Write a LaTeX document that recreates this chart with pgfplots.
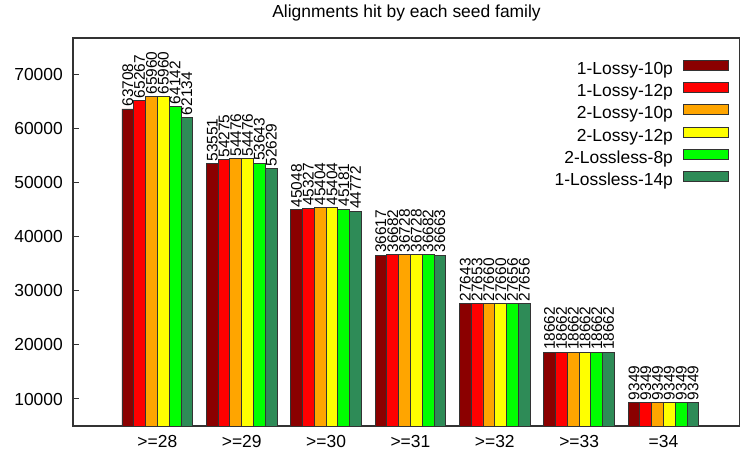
\documentclass[border=0pt]{standalone}
\usepackage{fontspec}
\setmainfont{Liberation Sans}
\usepackage{pgfplots}
\pgfplotsset{compat=1.18}
\definecolor{c1}{HTML}{8B0000}
\definecolor{c2}{HTML}{FF0000}
\definecolor{c3}{HTML}{FFA500}
\definecolor{c4}{HTML}{FFFF00}
\definecolor{c5}{HTML}{00FF00}
\definecolor{c6}{HTML}{2E8B57}
\definecolor{axc}{HTML}{333333}
\begin{document}
\begin{tikzpicture}
\begin{axis}[
  scale only axis,
  width=667bp, height=388bp,
  xmin=-1, xmax=6.907,
  ymin=5000, ymax=76850,
  ybar=0pt, bar width=11.8bp,
  scaled y ticks=false,
  /pgf/number format/assume math mode=true,
  /pgf/number format/1000 sep={},
  axis line style={draw=axc, line width=1.2bp},
  xtick={0,1,2,3,4,5,6},
  xticklabels={{>=28},{>=29},{>=30},{>=31},{>=32},{>=33},{=34}},
  xtick style={draw=none},
  ytick={10000,20000,30000,40000,50000,60000,70000},
  ytick pos=left, tick align=inside,
  ytick style={draw=axc, line width=1bp},
  major tick length=6bp,
  tick label style={font=\fontsize{17.5}{20}\selectfont, inner sep=0pt},
  xticklabel shift=9bp,
  yticklabel shift=10bp,
  title={Alignments hit by each seed family},
  title style={font=\fontsize{17.5}{20}\selectfont, anchor=base, yshift=15bp, inner sep=0pt},
  nodes near coords,
  every node near coord/.append style={font=\fontsize{15.5}{18}\selectfont, rotate=90, anchor=west, inner sep=2bp, text=black},
  legend plot pos=right,
  legend cell align=right,
  legend style={draw=none, fill=none, at={(1,1)}, anchor=north east, xshift=-11bp, yshift=-22bp,
    font=\fontsize{17.5}{20}\selectfont, row sep=4.2bp, column sep=10bp, inner sep=0pt,
    nodes={inner sep=0pt, text height=12.5bp, text depth=3.5bp}},
  legend image code/.code={\draw[#1, draw=black!80, line width=0.9bp] (0bp,-0.5bp) rectangle (45bp,9.5bp);},
  every axis plot/.append style={draw=black!80, line width=0.9bp},
]
\addplot[fill=c1] coordinates {(0,63708) (1,53551) (2,45048) (3,36617) (4,27643) (5,18662) (6,9349)};
\addplot[fill=c2] coordinates {(0,65267) (1,54275) (2,45327) (3,36682) (4,27653) (5,18662) (6,9349)};
\addplot[fill=c3] coordinates {(0,65960) (1,54476) (2,45404) (3,36728) (4,27660) (5,18662) (6,9349)};
\addplot[fill=c4] coordinates {(0,65960) (1,54476) (2,45404) (3,36728) (4,27660) (5,18662) (6,9349)};
\addplot[fill=c5] coordinates {(0,64142) (1,53643) (2,45181) (3,36682) (4,27656) (5,18662) (6,9349)};
\addplot[fill=c6] coordinates {(0,62134) (1,52629) (2,44772) (3,36663) (4,27656) (5,18662) (6,9349)};
\legend{1-Lossy-10p,1-Lossy-12p,2-Lossy-10p,2-Lossy-12p,2-Lossless-8p,1-Lossless-14p}
\end{axis}
\pgfresetboundingbox
\path ([xshift=-73bp,yshift=-28bp]current axis.south west) rectangle ([yshift=38bp]current axis.north east);
\end{tikzpicture}
\end{document}
